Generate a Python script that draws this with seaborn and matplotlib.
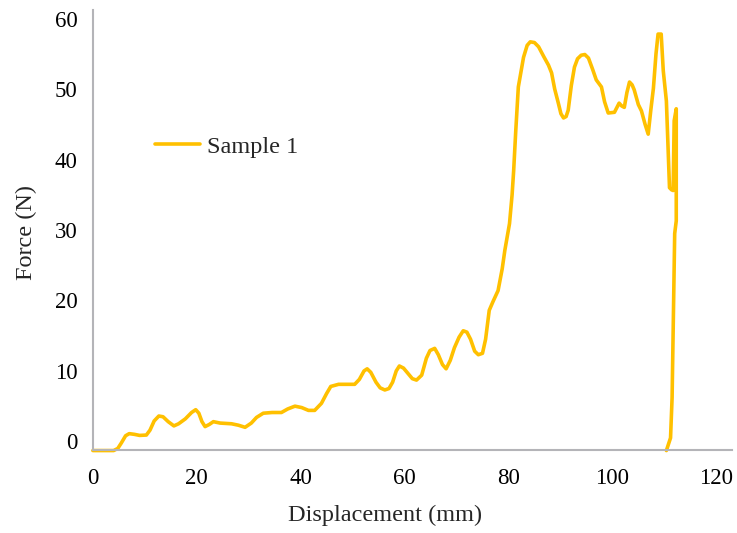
import matplotlib
matplotlib.use('Agg')
import matplotlib.pyplot as plt
import pandas as pd
import seaborn as sns

# Displacement (mm) / Force (N)
displacement = [0, 2, 4, 4.8, 5.5, 6.3, 7, 8, 9, 10.3, 11, 11.8, 12.7, 13.5, 14.5, 15.6, 16.5,
                17.8, 19, 19.8, 20.4, 21, 21.6, 22.4, 23.2, 24.5, 26.7, 28, 29.3, 30.5, 31.5,
                32.8, 34.5, 36.3, 37.5, 38.9, 40.2, 41.5, 42.7, 44, 45, 45.8, 47.3, 50.4,
                51.3, 52.2, 52.8, 53.5, 54.5, 55.3, 56.2, 57, 57.7, 58.4, 59, 59.8, 60.7,
                61.5, 62.3, 63.3, 64.2, 64.9, 65.8, 66.5, 67.3, 68, 68.8, 69.6, 70.5, 71.3,
                72, 72.7, 73.5, 74.2, 75, 75.6, 76.3, 77, 78, 78.8, 79.3, 80.2, 80.7, 81,
                81.4, 81.9, 82.9, 83.6, 84.2, 85, 85.8, 86.8, 87.7, 88.3, 88.9, 89.6, 90.1,
                90.6, 91.1, 91.5, 92.1, 92.7, 93.3, 94, 94.7, 95.4, 96.2, 96.9, 97.9, 98.5,
                99.2, 100.4, 101.3, 101.8, 102.3, 102.8, 103.3, 103.8, 104.2, 105, 105.6,
                106.3, 106.9, 107.4, 107.9, 108.4, 108.8, 109.4, 109.8, 110.4, 110.7, 111,
                111.4, 111.7, 111.9, 112.3, 112.3, 112.0, 111.8, 111.6, 111.5, 111.2, 110.4]
force = [-1.3, -1.3, -1.3, -1.0, -0.2, 0.8, 1.1, 1.0, 0.85, 0.9, 1.6, 2.9, 3.6, 3.5, 2.8, 2.2, 2.5,
         3.2, 4.1, 4.5, 4.0, 2.8, 2.1, 2.4, 2.8, 2.6, 2.5, 2.3, 2.0, 2.6, 3.4,
         4.0, 4.1, 4.1, 4.6, 5.0, 4.8, 4.4, 4.4, 5.4, 6.8, 7.8, 8.1, 8.1,
         8.8, 10.0, 10.3, 9.8, 8.4, 7.6, 7.3, 7.5, 8.4, 10.0, 10.7, 10.4, 9.6,
         8.9, 8.7, 9.4, 11.8, 12.9, 13.2, 12.3, 10.9, 10.3, 11.5, 13.3, 14.8, 15.7,
         15.5, 14.5, 12.8, 12.3, 12.5, 14.5, 18.6, 19.8, 21.4, 24.5, 27.1, 30.9, 35.0, 38.4,
         44.0, 50.3, 54.5, 56.2, 56.7, 56.6, 56.0, 54.6, 53.4, 52.3, 50.0, 48.0, 46.5,
         45.9, 46.1, 47.0, 50.5, 53.1, 54.3, 54.8, 54.9, 54.4, 52.8, 51.3, 50.3, 48.2,
         46.6, 46.7, 48.0, 47.6, 47.4, 49.5, 51.0, 50.6, 49.9, 47.8, 46.9,
         45.0, 43.6, 47.0, 50.1, 55.0, 57.8, 57.8, 52.6, 48.3, 42.0, 36.0,
         35.7, 35.6, 45.5, 47.2, 31.3, 29.5, 20.0, 10.0, 6.2, 0.5, -1.3]

df = pd.DataFrame({'Displacement': displacement, 'Force': force})

sns.set_style('white')
plt.rcParams['font.family'] = ['Liberation Serif', 'DejaVu Serif']

fig = plt.figure(figsize=(7.37, 5.33), dpi=100)
ax = fig.add_axes([0.126, 0.156, 0.867, 0.825])

sns.lineplot(data=df, x='Displacement', y='Force', sort=False, estimator=None,
             color='#FFC000', linewidth=2.6, label='Sample 1', ax=ax, clip_on=False)

ax.set_xlim(0, 123)
ax.set_ylim(-1.2, 61.2)
ax.set_xticks(range(0, 121, 20))
ax.set_yticks(range(0, 61, 10))
ax.tick_params(axis='both', length=0, labelsize=16.5, colors='black')
ax.tick_params(axis='y', pad=11)
ax.tick_params(axis='x', pad=13)

for s in ['top', 'right']:
    ax.spines[s].set_visible(False)
for s in ['left', 'bottom']:
    ax.spines[s].set_color('#B4B4B8')
    ax.spines[s].set_linewidth(1.5)

ax.set_xlabel('Displacement (mm)', fontsize=17.5)
ax.set_ylabel('Force (N)', fontsize=17.5)
ax.xaxis.set_label_coords(0.457, -0.126)
ax.yaxis.set_label_coords(-0.088, 0.495)

ax.legend(loc='center left', bbox_to_anchor=(0.097, 0.689), frameon=False,
          fontsize=17.5, handlelength=1.85, handletextpad=0.3,
          borderaxespad=0, borderpad=0)

fig.savefig('out.png', dpi=100)
